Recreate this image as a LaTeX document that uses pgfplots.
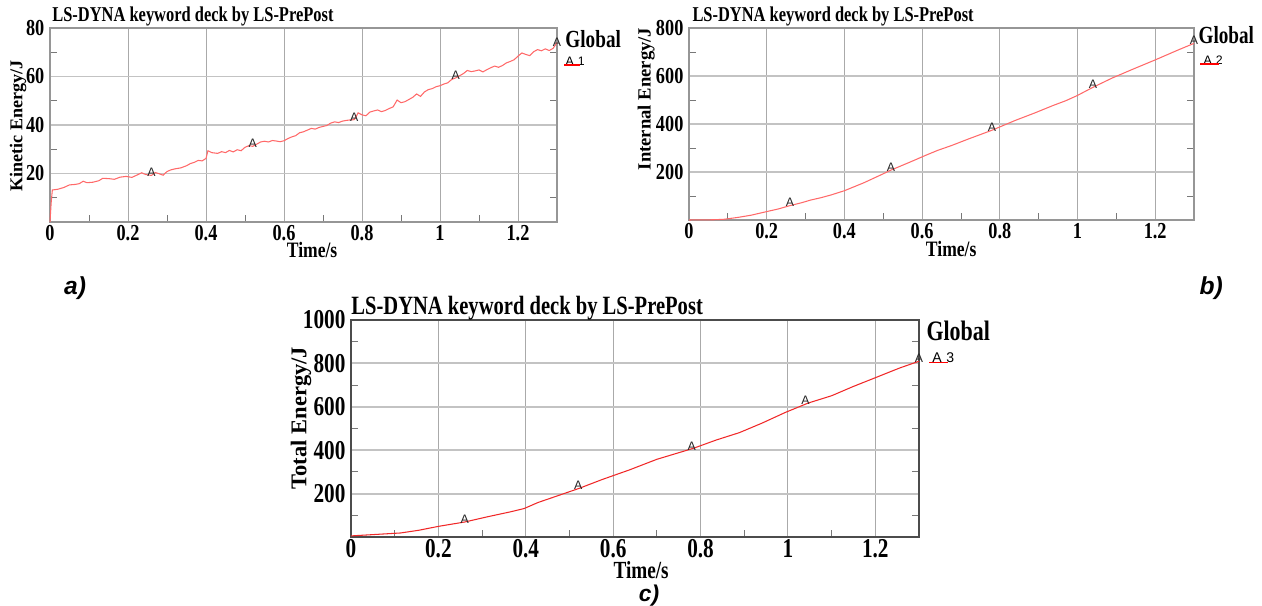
\documentclass[border=0pt]{standalone}
\usepackage{fontspec}
\setmainfont{Liberation Serif}
\newfontfamily\tbs[FakeStretch=0.8]{Liberation Serif}
\newfontfamily\tbt[FakeStretch=0.78]{Liberation Serif}
\newfontfamily\tbu{Liberation Serif}
\newfontfamily\asf{Liberation Sans}
\usepackage{pgfplots}
\pgfplotsset{compat=1.18}
\definecolor{curveA}{RGB}{255,105,105}
\definecolor{curveC}{RGB}{240,40,40}
\definecolor{gridc}{RGB}{170,170,170}
\definecolor{gridh}{RGB}{195,195,195}
\definecolor{tickc}{RGB}{120,120,120}
\definecolor{framec}{RGB}{150,150,150}
\pgfplotsset{
  lsdyna/.style={
    scale only axis,
    anchor=south west,
    xmin=0, xmax=1.3, ymin=0,
    xtick={0,0.2,0.4,0.6,0.8,1,1.2},
    xticklabels={0,0.2,0.4,0.6,0.8,1,1.2},
    minor xtick={0.1,0.3,0.5,0.7,0.9,1.1},
    xtick pos=left, ytick pos=both,
    tick align=inside,
    major tick length=0pt,
    minor tick length=4pt,
    every tick/.style={tickc, line width=0.5pt},
    xmajorgrids, ymajorgrids,
    x grid style={gridc, line width=0.5pt},
    y grid style={gridh, line width=1.1pt},
    axis line style={framec, line width=0.8pt},
    /pgf/number format/assume math mode=true,
    xticklabel style={inner sep=0pt, yshift=-1.9pt},
    yticklabel style={inner sep=0pt, xshift=-3pt},
    clip=false,
  },
  amark/.style={only marks, mark=text, text mark={A}, text mark as node=true,
    text mark style={font=\asf\fontsize{7}{7}\selectfont, anchor=south, inner sep=0pt, text=black!85, yshift=-1pt}},
}
\begin{document}
\begin{tikzpicture}
\useasboundingbox (0,0) rectangle (25.24,12.1);
% ---------- a) kinetic energy
\begin{axis}[lsdyna,
  at={(1.0cm,7.66cm)}, width=10.14cm, height=3.88cm,
  ymax=80, ytick={20,40,60,80}, yticklabels={20,40,60,80}, minor ytick={10,30,50,70},
  ticklabel style={font=\tbs\bfseries\fontsize{13}{13}\selectfont},
]
\addplot[curveA, line width=0.6pt] coordinates {
(0,0)(0.003,8)(0.006,13.2)(0.02,13.5)(0.035,14.2)(0.05,15.3)(0.065,15.5)(0.075,15.8)(0.085,16.8)(0.095,16.2)
(0.11,16.4)(0.125,17.0)(0.135,18.0)(0.15,17.9)(0.165,17.6)(0.18,18.5)(0.195,18.8)(0.21,18.4)(0.225,19.5)(0.235,20.3)
(0.245,19.6)(0.26,19.2)(0.27,20.4)(0.28,19.9)(0.29,19.3)(0.3,20.8)(0.31,21.5)(0.32,21.9)(0.335,22.3)(0.35,23.2)
(0.36,24.1)(0.37,24.6)(0.38,25.4)(0.39,25.2)(0.40,26.2)(0.405,29.4)(0.415,28.6)(0.43,28.3)(0.44,29.0)(0.45,28.6)
(0.46,29.5)(0.47,28.9)(0.48,29.8)(0.49,29.4)(0.50,30.8)(0.51,31.5)(0.52,31.2)(0.53,32.1)(0.54,33.0)(0.55,33.3)
(0.56,33.0)(0.57,33.6)(0.58,33.4)(0.59,33.1)(0.60,33.5)(0.61,34.4)(0.62,35.1)(0.63,35.6)(0.64,36.8)(0.65,37.2)
(0.66,37.9)(0.67,38.6)(0.68,38.3)(0.69,39.0)(0.70,39.4)(0.71,39.8)(0.72,40.8)(0.73,41.3)(0.74,41.0)(0.75,41.6)
(0.76,41.9)(0.77,42.1)(0.78,42.2)(0.785,43.5)(0.79,45.0)(0.80,44.2)(0.81,43.8)(0.82,45.3)(0.83,45.8)(0.84,46.2)
(0.85,45.5)(0.86,46.0)(0.87,46.8)(0.88,47.5)(0.89,50.3)(0.90,49.2)(0.91,49.6)(0.92,50.5)(0.93,51.4)(0.94,52.8)
(0.95,51.8)(0.96,53.6)(0.97,54.6)(0.98,55.0)(0.99,55.8)(1.00,56.2)(1.01,56.9)(1.02,57.4)(1.03,58.8)(1.04,59.4)
(1.05,60.3)(1.06,61.2)(1.07,62.5)(1.08,62.0)(1.09,62.3)(1.10,62.7)(1.11,61.9)(1.12,62.8)(1.13,63.6)(1.14,64.3)
(1.15,63.8)(1.16,64.5)(1.17,65.6)(1.18,66.2)(1.19,66.9)(1.20,68.4)(1.21,69.7)(1.22,69.1)(1.23,68.6)(1.24,70.2)
(1.25,71.1)(1.26,70.6)(1.27,71.4)(1.28,70.7)(1.29,71.6)(1.30,74.0)};
\addplot[amark] coordinates {(0.26,19.2)(0.52,31.2)(0.78,42.2)(1.04,59.4)(1.3,73)};
\end{axis}
% ---------- b) internal energy
\begin{axis}[lsdyna,
  at={(13.78cm,7.70cm)}, width=10.10cm, height=3.84cm,
  ymax=800, ytick={200,400,600,800}, yticklabels={200,400,600,800}, minor ytick={100,300,500,700},
  ticklabel style={font=\tbs\bfseries\fontsize{13}{13}\selectfont},
]
\addplot[curveA, line width=0.6pt] coordinates {
(0,0)(0.03,0.5)(0.064,1)(0.09,3)(0.127,11)(0.16,20)(0.2,35)(0.23,46)(0.26,60)(0.29,72)(0.313,83)
(0.34,93)(0.365,104)(0.40,122)(0.45,155)(0.49,185)(0.52,208)(0.57,242)(0.61,270)(0.64,290)(0.677,311)
(0.72,338)(0.78,374)(0.84,415)(0.89,446)(0.937,477)(0.97,497)(1.0,519)(1.04,553)(1.09,592)(1.145,630)
(1.2,667)(1.23,688)(1.26,709)(1.3,736)};
\addplot[amark] coordinates {(0.26,60)(0.52,208)(0.78,374)(1.04,553)(1.3,736)};
\end{axis}
% ---------- c) total energy
\begin{axis}[lsdyna,
  at={(7.02cm,1.36cm)}, width=11.36cm, height=4.34cm,
  ymax=1000, ytick={200,400,600,800,1000}, yticklabels={200,400,600,800,1000}, minor ytick={100,300,500,700,900},
  ticklabel style={font=\tbt\bfseries\fontsize{15.5}{15.5}\selectfont},
  xticklabel style={yshift=0.6pt},
  axis line style={black!70, line width=0.8pt},
]
\addplot[curveC, line width=0.6pt] coordinates {
(0,5)(0.05,11)(0.113,18.5)(0.155,31)(0.2,49)(0.26,69)(0.312,93)(0.365,116)(0.396,131)(0.428,159)
(0.47,188)(0.522,224)(0.575,265)(0.637,309)(0.7,358)(0.784,409)(0.836,447)(0.889,481)(0.941,525)
(0.994,574)(1.046,617)(1.1,651)(1.15,694)(1.205,738)(1.256,779)(1.3,810)};
\addplot[amark] coordinates {(0.26,69)(0.52,224)(0.78,407)(1.04,615)(1.3,810)};
\end{axis}
% ---------- texts
\begin{scope}[x=0.02cm, y=-0.02cm, shift={(0,12.1cm)}]
% a
\node[anchor=west, inner sep=0pt, font=\tbt\bfseries\fontsize{12}{12}\selectfont] at (52,16) {LS-DYNA keyword deck by LS-PrePost};
\node[rotate=90, inner sep=0pt, font=\tbu\bfseries\fontsize{10.3}{10.3}\selectfont] at (18,126) {Kinetic Energy/J};
\node[inner sep=0pt, font=\tbs\bfseries\fontsize{12.5}{12.5}\selectfont] at (312,250) {Time/s};
\node[anchor=west, inner sep=0pt, font=\tbt\bfseries\fontsize{14}{14}\selectfont] at (565,39) {Global};
\node[inner sep=0pt, font=\asf\fontsize{7}{7}\selectfont] at (575,61) {A\,\,1};
\draw[red, line width=0.6pt] (564,65) -- (580,65);
\node[inner sep=0pt, font=\asf\bfseries\itshape\fontsize{14}{14}\selectfont] at (75,288) {a)};
% b
\node[anchor=west, inner sep=0pt, font=\tbt\bfseries\fontsize{12}{12}\selectfont] at (692,16) {LS-DYNA keyword deck by LS-PrePost};
\node[rotate=90, inner sep=0pt, font=\tbu\bfseries\fontsize{10.6}{10.6}\selectfont] at (646,99) {Internal Energy/J};
\node[inner sep=0pt, font=\tbs\bfseries\fontsize{12.5}{12.5}\selectfont] at (951,249) {Time/s};
\node[anchor=west, inner sep=0pt, font=\tbt\bfseries\fontsize{14}{14}\selectfont] at (1198,35) {Global};
\node[inner sep=0pt, font=\asf\fontsize{7}{7}\selectfont] at (1213,60) {A\,\,2};
\draw[red, line width=0.6pt] (1200,64) -- (1219,64);
\node[inner sep=0pt, font=\asf\bfseries\itshape\fontsize{14}{14}\selectfont] at (1211,288) {b)};
% c
\node[anchor=west, inner sep=0pt, font=\tbt\bfseries\fontsize{15}{15}\selectfont] at (351,308) {LS-DYNA keyword deck by LS-PrePost};
\node[rotate=90, inner sep=0pt, font=\tbu\bfseries\fontsize{12.8}{12.8}\selectfont] at (301,418) {Total Energy/J};
\node[inner sep=0pt, font=\tbt\bfseries\fontsize{14}{14}\selectfont] at (641,570) {Time/s};
\node[inner sep=0pt, font=\asf\bfseries\itshape\fontsize{13}{13}\selectfont] at (649,595) {c)};
\node[anchor=west, inner sep=0pt, font=\tbt\bfseries\fontsize{16}{16}\selectfont] at (926,331) {Global};
\node[inner sep=0pt, font=\asf\fontsize{8}{8}\selectfont] at (943,358) {A\,\,3};
\draw[red, line width=0.6pt] (929,362) -- (948,362);
\end{scope}
\end{tikzpicture}
\end{document}
